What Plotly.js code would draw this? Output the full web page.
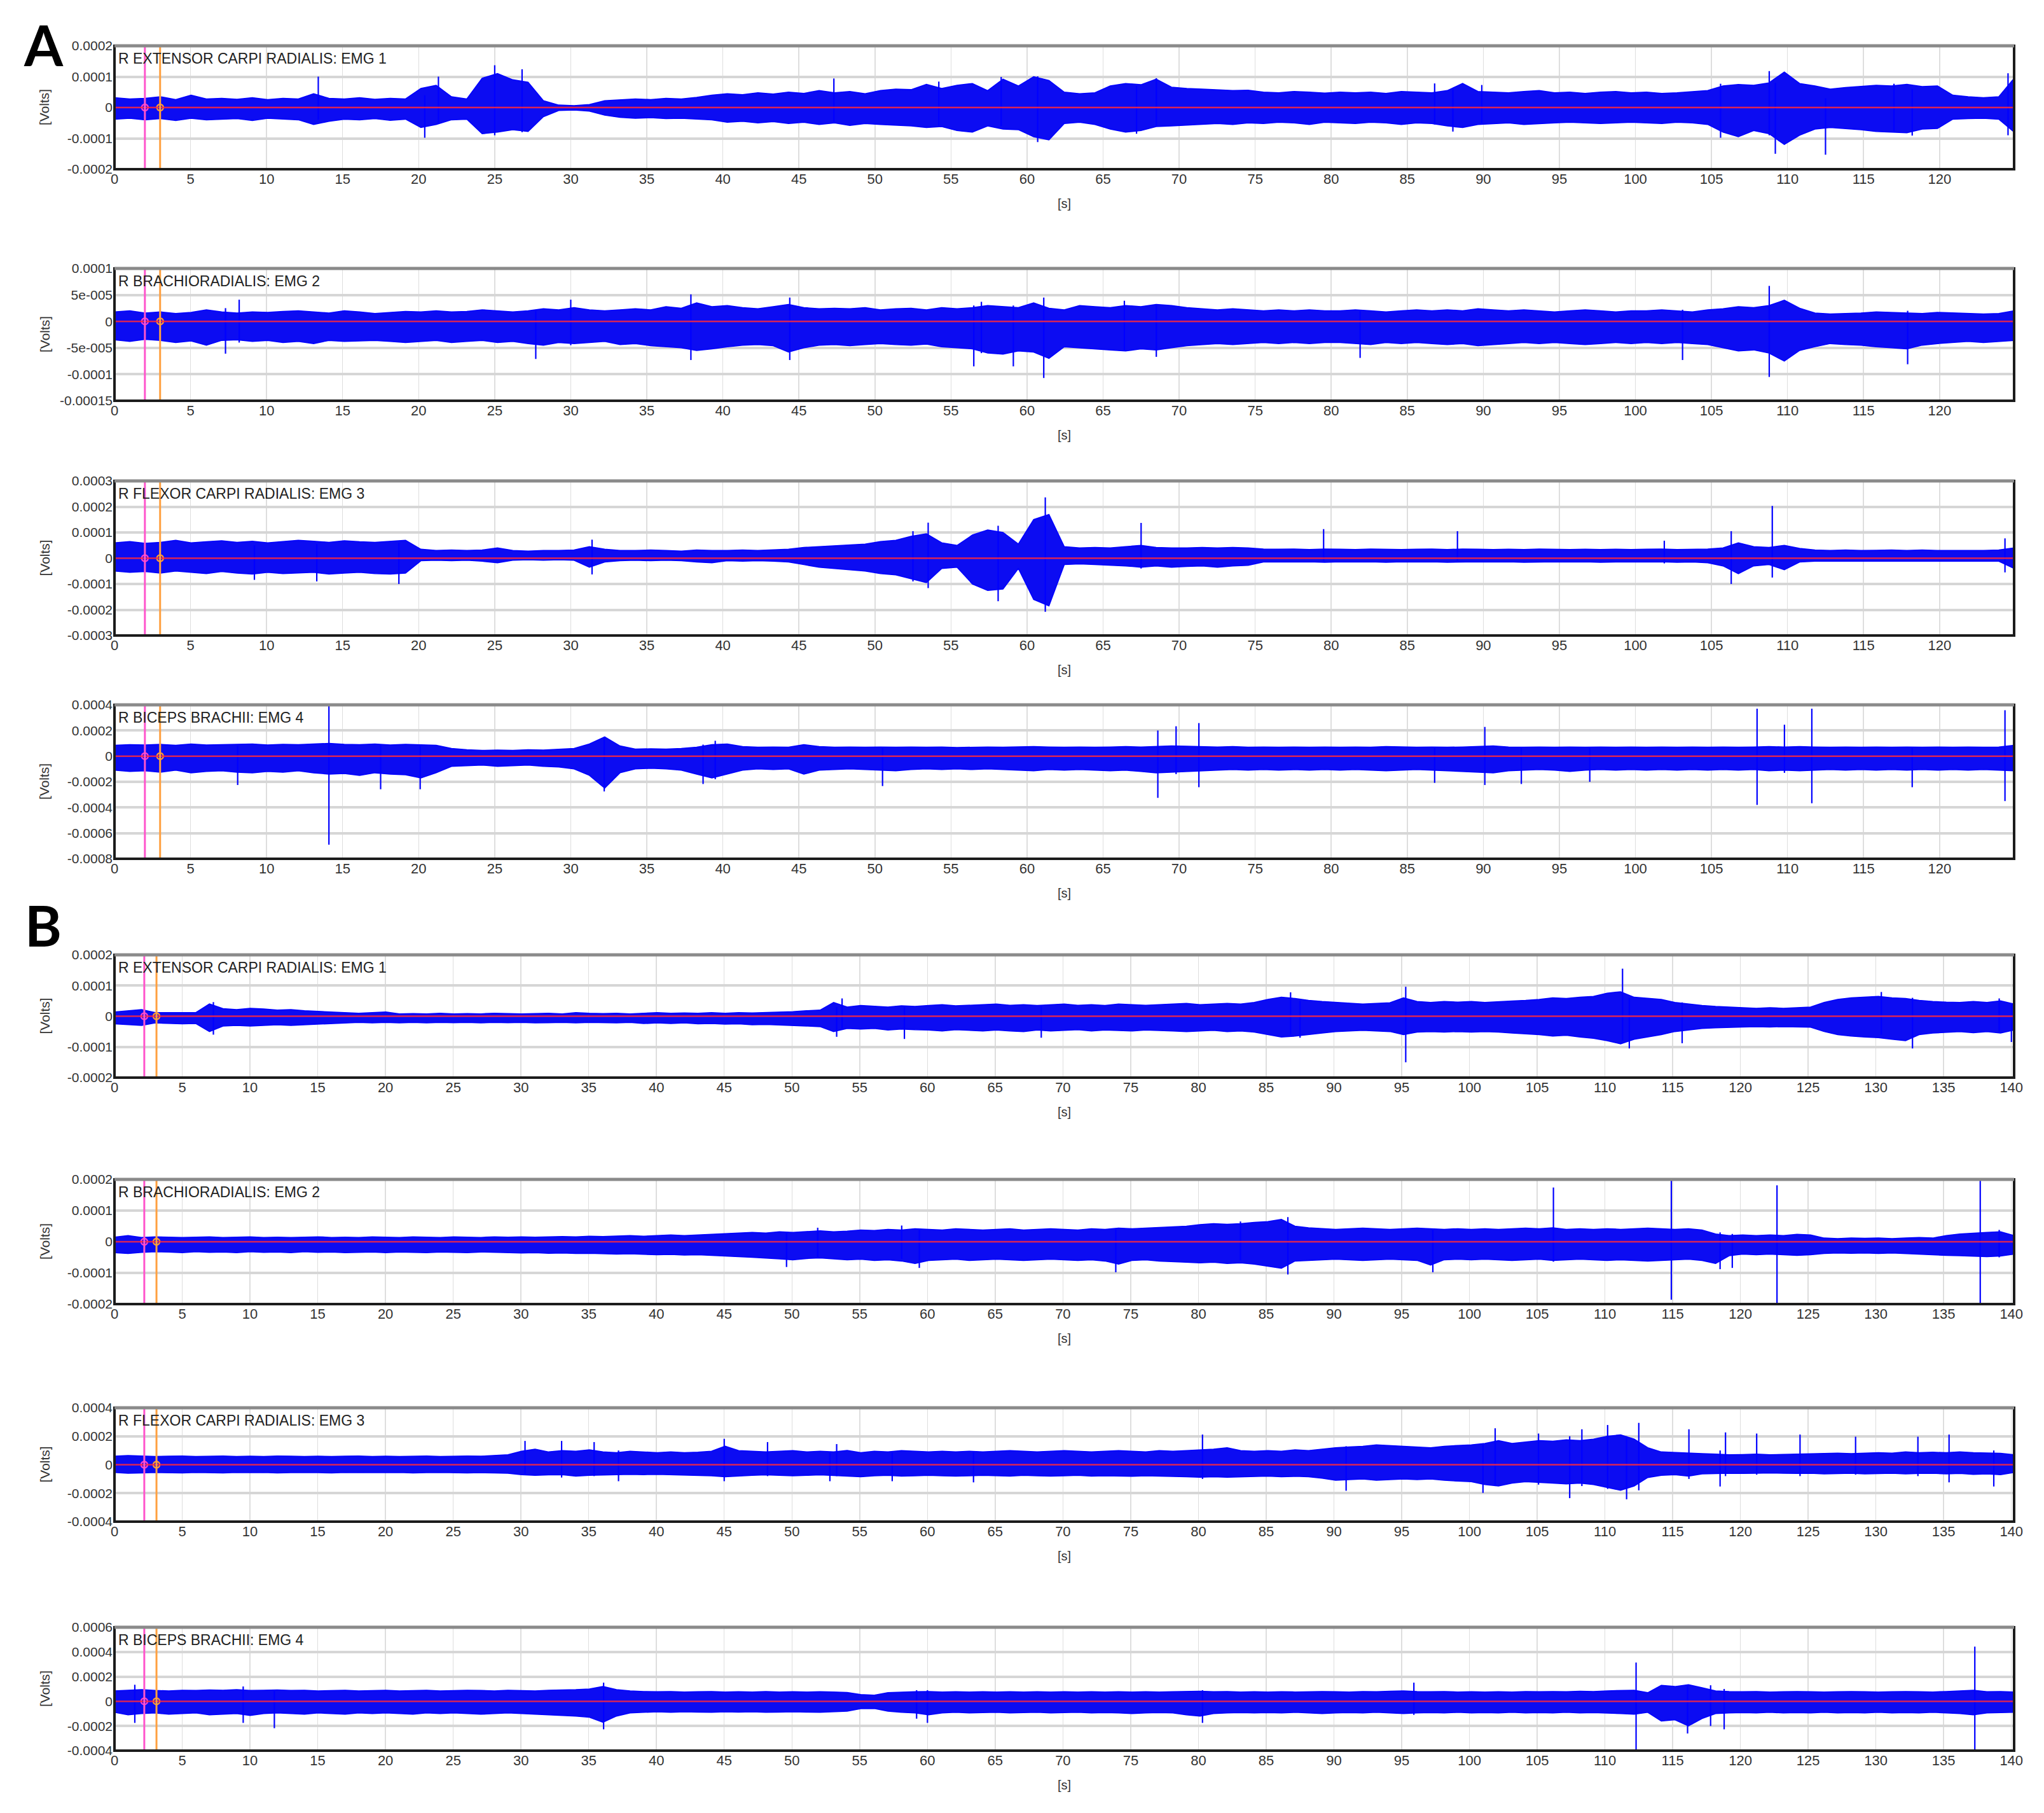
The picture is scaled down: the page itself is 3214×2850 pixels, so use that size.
<!DOCTYPE html>
<html><head><meta charset="utf-8">
<script src="https://cdn.plot.ly/plotly-3.0.1.min.js"></script>
<style>html,body{margin:0;padding:0;background:#fff}#chart{width:3214px;height:2850px}</style>
</head><body><div id="chart"></div>
<script>
// ===== DATA (signal envelopes in microvolts, one value per sample of the 1 s grid) =====
const A_duration_s = 124.9;
const B_duration_s = 140.2;
const A_xTicks = [0,5,10,15,20,25,30,35,40,45,50,55,60,65,70,75,80,85,90,95,100,105,110,115,120];
const B_xTicks = [0,5,10,15,20,25,30,35,40,45,50,55,60,65,70,75,80,85,90,95,100,105,110,115,120,125,130,135,140];
const A_cursorPink = 2.0, A_cursorOrange = 3.0;
const B_cursorPink = 2.2, B_cursorOrange = 3.1;

const titles = ['R EXTENSOR CARPI RADIALIS: EMG 1','R BRACHIORADIALIS: EMG 2','R FLEXOR CARPI RADIALIS: EMG 3','R BICEPS BRACHII: EMG 4'];

// --- A1
const A1_hi = [32,28,30,35,26,40,28,30,27,32,26,30,28,45,30,28,32,27,30,28,
62,72,35,28,95,110,90,82,22,8,6,10,22,25,28,26,30,28,33,40,
45,42,48,44,50,46,55,48,52,45,55,60,58,75,62,72,78,55,92,70,
100,88,50,45,48,70,78,74,92,66,62,60,58,55,56,50,48,52,50,47,
50,48,50,46,52,50,48,55,78,52,50,48,52,55,48,50,46,50,52,48,
50,46,48,52,55,70,75,72,80,115,78,70,60,65,68,72,70,75,68,70,
40,35,32,35,95];
const A1_lo = [-38,-35,-40,-36,-42,-35,-40,-38,-36,-42,-35,-38,-40,-55,-45,-38,-40,-36,-42,-38,
-65,-55,-40,-38,-85,-80,-72,-78,-30,-10,-8,-12,-25,-32,-35,-33,-36,-35,-38,-40,
-48,-45,-50,-46,-52,-48,-55,-50,-58,-52,-55,-58,-60,-65,-62,-75,-80,-60,-70,-72,
-95,-105,-52,-48,-55,-70,-80,-75,-62,-60,-58,-55,-52,-55,-50,-52,-48,-50,-55,-48,
-50,-52,-48,-50,-55,-50,-52,-60,-65,-55,-52,-50,-55,-52,-50,-48,-50,-52,-50,-48,
-50,-52,-48,-50,-55,-80,-95,-75,-85,-120,-90,-70,-65,-68,-72,-78,-80,-82,-70,-68,
-38,-36,-35,-38,-80];
const A1_spikeT  = [13.4,20.4,21.3,25,26.8,47.3,54.2,58.3,60.7,67.2,68.5,86.8,88,89.9,105.6,108.8,109.2,112.5,117,118.2,124.5];
const A1_spikeHi = [100,40,100,137,124,94,84,99,101,70,95,78,60,73,77,118,80,30,77,60,111];
const A1_spikeLo = [-40,-98,-50,-90,-80,-50,-60,-60,-112,-85,-60,-55,-78,-55,-98,-90,-150,-153,-80,-91,-90];

// --- A2
const A2_hi = [18,20,16,18,15,17,22,18,16,18,17,19,20,18,16,20,18,15,17,19,
18,20,18,19,22,20,18,20,24,22,26,22,20,22,24,22,28,25,35,28,
30,26,24,28,32,26,24,25,24,26,22,24,25,22,26,24,26,30,28,26,
35,25,22,30,28,26,30,28,32,30,26,24,22,24,22,20,22,20,22,20,
20,22,20,18,20,22,20,22,20,24,22,20,22,20,18,20,22,20,18,20,
20,22,20,18,22,24,28,26,30,40,25,16,14,15,16,18,17,16,15,17,
16,15,14,15,20];
const A2_lo = [-35,-38,-34,-36,-40,-37,-45,-36,-35,-38,-36,-40,-38,-42,-36,-38,-37,-36,-38,-40,
-38,-36,-40,-38,-36,-40,-38,-42,-45,-40,-42,-40,-38,-44,-42,-46,-48,-50,-55,-52,
-48,-45,-44,-46,-58,-50,-45,-44,-46,-44,-42,-44,-45,-43,-48,-50,-52,-60,-62,-56,
-58,-70,-48,-50,-52,-54,-56,-52,-54,-50,-46,-44,-42,-44,-42,-40,-42,-40,-42,-40,
-40,-42,-44,-40,-42,-40,-42,-44,-42,-46,-44,-42,-40,-42,-40,-42,-44,-42,-40,-42,
-40,-42,-40,-42,-44,-50,-56,-54,-60,-75,-55,-48,-42,-44,-45,-48,-50,-52,-45,-42,
-40,-38,-40,-38,-36];
const A2_spikeT  = [7.3,8.2,27.7,30,37.9,44.4,56.5,57,59.1,61.1,66.4,68.5,81.9,103.1,108.8,117.9];
const A2_spikeHi = [25,41,20,41,51,45,30,37,30,45,39,30,20,22,67,20];
const A2_spikeLo = [-61,-40,-71,-45,-73,-73,-85,-60,-85,-107,-55,-67,-69,-73,-105,-81];

// --- A3
const A3_hi = [60,65,58,62,70,60,64,68,62,66,60,65,70,66,62,68,64,62,66,70,
35,30,32,30,32,40,30,28,30,30,32,45,35,30,30,32,30,28,32,30,
30,32,30,32,35,42,45,48,52,55,65,70,85,95,60,50,90,110,100,55,
150,170,45,40,42,40,45,50,42,40,40,42,40,42,40,36,35,36,34,36,
35,34,36,35,34,35,36,34,36,35,34,35,34,36,35,34,35,34,35,34,
35,36,34,35,36,40,60,45,42,50,38,32,30,32,30,31,32,30,32,30,
30,31,30,32,40];
const A3_lo = [-50,-55,-52,-58,-50,-55,-60,-52,-58,-62,-55,-60,-58,-55,-62,-58,-55,-60,-62,-58,
-10,-8,-10,-8,-12,-18,-8,-6,-8,-6,-8,-35,-15,-10,-8,-10,-8,-10,-15,-18,
-10,-12,-10,-12,-15,-25,-35,-40,-45,-50,-60,-65,-80,-95,-40,-35,-100,-125,-120,-40,
-160,-185,-25,-22,-25,-28,-30,-35,-30,-35,-32,-30,-35,-30,-28,-15,-14,-15,-14,-16,
-14,-15,-14,-16,-14,-15,-14,-16,-15,-14,-15,-14,-16,-15,-14,-15,-14,-16,-15,-14,
-15,-14,-16,-15,-18,-30,-60,-30,-25,-45,-15,-12,-12,-12,-12,-12,-12,-12,-12,-12,
-12,-12,-12,-12,-40];
const A3_spikeT  = [9.2,13.3,18.7,31.4,52.5,53.5,58.1,61.2,67.5,79.5,88.3,101.9,106.3,109,124.3];
const A3_spikeHi = [50,55,60,72,105,138,126,236,137,113,105,68,105,203,77];
const A3_spikeLo = [-84,-90,-100,-63,-90,-116,-167,-208,-40,-15,-15,-20,-100,-75,-55];

// --- A4
const A4_hi = [85,90,88,92,85,95,88,90,92,95,88,92,90,95,100,92,90,95,88,92,
90,85,60,50,45,48,45,50,48,55,60,95,150,80,55,58,55,60,70,90,
95,75,70,72,70,90,75,70,72,70,72,70,72,70,72,68,70,72,70,72,
75,72,70,72,70,72,75,72,75,80,78,75,72,75,70,72,70,72,70,72,
70,72,70,75,72,70,72,70,72,75,80,72,70,72,70,72,70,72,70,72,
70,72,70,72,70,72,70,72,75,72,75,72,70,72,70,72,70,72,70,72,
70,72,70,72,85];
const A4_lo = [-110,-120,-115,-125,-110,-130,-120,-115,-125,-130,-120,-125,-115,-130,-140,-135,-150,-130,-140,-145,
-170,-130,-80,-75,-70,-80,-75,-70,-80,-85,-100,-150,-250,-130,-100,-95,-100,-110,-140,-170,
-140,-110,-100,-105,-100,-140,-110,-105,-100,-105,-110,-115,-105,-100,-105,-100,-105,-100,-105,-110,
-115,-105,-110,-105,-110,-115,-110,-120,-130,-125,-120,-115,-110,-105,-110,-105,-110,-105,-110,-105,
-110,-105,-110,-115,-110,-105,-110,-115,-120,-125,-130,-115,-110,-105,-110,-120,-110,-105,-110,-105,
-110,-105,-110,-105,-110,-105,-110,-105,-115,-110,-115,-110,-105,-110,-105,-110,-105,-110,-105,-110,
-105,-110,-105,-110,-115];
const A4_spikeT  = [8.1,14.1,17.5,20.1,32.2,38.7,39.5,50.5,68.6,69.8,71.3,86.8,90.1,92.5,97,108,109.8,111.6,118.2,124.3];
const A4_spikeHi = [80,420,90,80,150,90,120,70,200,233,258,70,228,70,70,370,245,370,70,358];
const A4_spikeLo = [-225,-690,-258,-258,-275,-217,-180,-233,-325,-140,-242,-208,-225,-217,-200,-380,-130,-367,-242,-350];

// --- B1
const B1_hi = [14,18,22,12,12,13,12,40,25,22,26,24,20,22,18,16,14,12,10,12,
14,8,9,8,10,8,9,8,10,9,8,9,10,8,12,10,9,10,8,10,
12,10,11,10,12,10,12,11,12,14,15,18,20,45,30,35,32,30,34,32,
35,38,34,36,38,40,36,38,35,38,40,36,38,35,40,38,36,38,40,42,
38,40,42,40,45,55,62,58,52,48,45,42,40,42,44,60,48,45,48,46,
48,45,48,50,52,55,60,58,62,65,75,80,62,58,55,45,40,35,32,30,
28,26,28,26,28,30,45,55,60,62,65,60,58,52,48,46,45,48,45,50,
40];
const B1_lo = [-25,-28,-30,-22,-24,-25,-24,-50,-32,-30,-32,-30,-28,-30,-28,-26,-24,-22,-20,-22,
-20,-22,-20,-22,-20,-21,-20,-22,-20,-21,-20,-22,-21,-20,-22,-20,-21,-22,-20,-24,
-22,-24,-22,-25,-24,-26,-25,-28,-27,-28,-30,-32,-34,-50,-40,-42,-40,-45,-42,-44,
-45,-48,-44,-46,-48,-45,-48,-50,-45,-48,-46,-44,-48,-45,-46,-48,-45,-46,-48,-50,
-48,-46,-50,-48,-52,-60,-68,-65,-60,-55,-50,-48,-46,-48,-50,-60,-52,-50,-52,-50,
-52,-50,-52,-55,-58,-60,-65,-62,-68,-72,-80,-90,-75,-68,-60,-50,-45,-40,-38,-36,
-35,-34,-35,-34,-35,-36,-50,-60,-65,-68,-70,-75,-80,-60,-55,-52,-50,-54,-50,-55,
-45];
const B1_spikeT  = [7.3,53.3,53.7,58.3,68.4,86.8,87.5,95.3,111.3,111.8,115.7,130.4,132.7,139.1,140];
const B1_spikeHi = [46,30,58,30,35,78,50,96,155,60,45,79,60,58,40];
const B1_spikeLo = [-60,-67,-40,-74,-70,-60,-70,-150,-80,-105,-88,-60,-105,-50,-84];

// --- B2
const B2_hi = [15,20,14,16,15,14,15,16,14,15,16,14,15,14,15,16,14,15,14,16,
15,14,16,15,14,16,15,14,16,15,16,15,16,17,16,18,17,18,20,18,
20,22,20,22,24,26,28,30,28,32,30,32,35,32,34,38,36,40,38,42,
40,38,42,40,38,40,42,38,40,42,40,38,42,40,44,42,44,46,48,50,
55,58,56,58,62,65,72,50,45,42,40,42,44,42,40,42,44,42,40,42,
40,42,40,42,44,42,45,40,42,40,42,40,42,44,42,40,42,38,25,20,
22,20,22,20,24,22,12,10,12,11,12,10,12,14,12,20,25,28,30,32,
20];
const B2_lo = [-35,-38,-34,-32,-33,-35,-32,-34,-33,-35,-32,-34,-33,-35,-32,-34,-33,-35,-34,-33,
-35,-33,-34,-35,-33,-34,-35,-33,-34,-35,-36,-35,-37,-36,-38,-37,-38,-40,-39,-40,
-42,-41,-43,-42,-45,-46,-48,-50,-52,-55,-58,-54,-52,-55,-58,-56,-60,-58,-62,-70,
-60,-58,-56,-60,-58,-56,-58,-60,-58,-56,-58,-60,-58,-62,-72,-60,-58,-62,-64,-66,
-68,-66,-70,-68,-72,-78,-85,-62,-60,-58,-56,-58,-60,-58,-56,-58,-60,-75,-58,-56,
-58,-56,-58,-60,-58,-56,-60,-58,-56,-58,-60,-58,-60,-62,-60,-58,-56,-60,-70,-45,
-40,-42,-40,-42,-44,-42,-38,-36,-37,-36,-38,-36,-38,-40,-42,-44,-45,-46,-48,-46,
-40];
const B2_spikeT  = [49.6,51.9,58.1,59.4,73.9,83.1,86.6,97.3,106.2,114.9,118.5,119.4,122.7,137.7,139.1];
const B2_spikeHi = [30,45,52,40,40,65,79,40,174,205,30,25,181,205,38];
const B2_spikeLo = [-81,-50,-55,-84,-98,-60,-105,-98,-64,-186,-88,-84,-205,-205,-50];

// --- B3
const B3_hi = [60,65,62,58,60,62,58,60,62,58,60,58,62,60,58,60,58,60,62,58,
60,58,60,62,58,60,62,60,65,70,95,110,90,100,95,105,90,85,95,90,
85,90,85,88,95,130,100,95,90,95,100,90,95,90,100,85,95,90,100,95,
90,95,90,95,90,95,100,95,90,95,100,95,90,95,100,95,90,100,95,100,
105,110,120,100,95,100,95,105,100,110,120,125,130,140,135,130,125,120,130,135,
140,150,170,150,160,170,165,175,170,180,200,210,180,120,90,85,80,78,75,70,
72,75,70,72,75,78,80,82,78,80,85,82,90,85,88,85,90,85,82,80,
70];
const B3_lo = [-55,-60,-58,-55,-56,-58,-55,-56,-58,-55,-56,-55,-58,-56,-55,-56,-58,-55,-56,-55,
-56,-55,-58,-56,-55,-56,-58,-56,-58,-60,-70,-75,-72,-70,-80,-75,-72,-70,-68,-70,
-68,-70,-72,-75,-78,-85,-80,-75,-72,-75,-78,-75,-72,-78,-80,-85,-78,-75,-80,-78,
-75,-78,-80,-78,-75,-78,-80,-75,-78,-80,-78,-75,-80,-78,-80,-82,-78,-80,-82,-85,
-88,-85,-88,-85,-82,-80,-85,-82,-85,-95,-110,-105,-100,-110,-105,-100,-105,-100,-110,-115,
-120,-140,-150,-130,-120,-125,-130,-135,-130,-140,-160,-180,-150,-90,-75,-70,-80,-65,-62,-60,
-62,-60,-58,-60,-62,-60,-65,-62,-60,-65,-62,-60,-65,-62,-60,-65,-62,-68,-65,-70,
-55];
const B3_spikeT  = [30.3,33,35.4,37.2,45,48.2,52.8,53.3,57.4,63.4,80.3,90.9,101,101.9,105.1,107.4,108.3,110.2,111.6,112.5,116.2,118.5,118.9,121.2,124.4,128.5,133.1,135.4,138.7];
const B3_spikeHi = [167,167,159,100,182,159,90,145,90,90,212,130,150,256,219,200,249,279,200,294,249,100,227,219,212,197,197,212,100];
const B3_spikeLo = [-70,-90,-80,-116,-116,-80,-116,-80,-116,-124,-100,-183,-198,-150,-140,-235,-150,-170,-243,-180,-100,-153,-80,-70,-80,-70,-80,-124,-153];

// --- B4
const B4_hi = [85,90,95,88,85,90,88,92,90,95,88,90,92,88,90,85,88,90,85,88,
90,85,88,90,85,88,90,88,85,90,88,85,90,92,95,100,120,95,85,80,
78,80,75,78,80,76,78,75,80,76,78,75,78,76,72,55,50,70,75,78,
80,76,78,75,78,76,78,75,78,76,78,75,78,76,78,75,78,76,78,80,
82,78,80,76,78,75,78,76,78,80,78,76,80,78,82,85,80,78,80,76,
78,75,78,76,80,78,80,78,82,80,85,88,90,70,130,120,135,110,85,80,
78,80,76,78,80,78,76,78,80,78,76,78,80,78,76,80,85,90,78,80,
75];
const B4_lo = [-90,-110,-100,-95,-105,-100,-95,-110,-105,-100,-115,-100,-95,-100,-105,-95,-100,-105,-95,-100,
-95,-100,-105,-95,-100,-95,-100,-105,-100,-95,-100,-105,-110,-115,-120,-130,-170,-120,-95,-90,
-85,-90,-85,-88,-90,-85,-88,-85,-90,-88,-85,-88,-90,-85,-80,-60,-58,-80,-90,-95,
-110,-95,-90,-95,-92,-90,-95,-92,-90,-95,-92,-90,-95,-92,-95,-100,-95,-92,-95,-110,
-120,-100,-95,-92,-95,-92,-95,-90,-95,-100,-95,-92,-95,-90,-95,-100,-95,-92,-95,-90,
-95,-92,-95,-90,-95,-92,-95,-90,-95,-92,-95,-100,-105,-90,-160,-150,-200,-140,-100,-95,
-92,-95,-90,-95,-92,-95,-90,-95,-92,-95,-90,-95,-92,-95,-90,-95,-100,-110,-95,-92,
-90];
const B4_spikeT  = [1.5,9.5,11.8,36.1,59.2,60,80.3,95.9,112.3,116.1,117.8,118.8,137.3];
const B4_spikeHi = [134,120,90,151,90,90,90,151,314,134,130,100,443];
const B4_spikeLo = [-175,-175,-218,-227,-141,-175,-175,-110,-400,-261,-200,-227,-400];

// y-axis ticks (volts) and their labels
const yTicks_A1 = [-0.0002,-0.0001,0,0.0001,0.0002];
const yText_A1 = ['-0.0002','-0.0001','0','0.0001','0.0002'];
const yTicks_A2 = [-0.00015,-0.0001,-0.00005,0,0.00005,0.0001];
const yText_A2 = ['-0.00015','-0.0001','-5e-005','0','5e-005','0.0001'];
const yTicks_A3 = [-0.0003,-0.0002,-0.0001,0,0.0001,0.0002,0.0003];
const yText_A3 = ['-0.0003','-0.0002','-0.0001','0','0.0001','0.0002','0.0003'];
const yTicks_A4 = [-0.0008,-0.0006,-0.0004,-0.0002,0,0.0002,0.0004];
const yText_A4 = ['-0.0008','-0.0006','-0.0004','-0.0002','0','0.0002','0.0004'];
const yTicks_B1 = [-0.0002,-0.0001,0,0.0001,0.0002];
const yText_B1 = ['-0.0002','-0.0001','0','0.0001','0.0002'];
const yTicks_B2 = [-0.0002,-0.0001,0,0.0001,0.0002];
const yText_B2 = ['-0.0002','-0.0001','0','0.0001','0.0002'];
const yTicks_B3 = [-0.0004,-0.0002,0,0.0002,0.0004];
const yText_B3 = ['-0.0004','-0.0002','0','0.0002','0.0004'];
const yTicks_B4 = [-0.0004,-0.0002,0,0.0002,0.0004,0.0006];
const yText_B4 = ['-0.0004','-0.0002','0','0.0002','0.0004','0.0006'];

// ===== LAYOUT CONFIG =====
const W = 3214, H = 2850, PL = 180, PR = 3167;
const FONT = 'Liberation Sans, Arial, sans-serif';
const panels = [
  {g:'A', title:titles[0], hi:A1_hi, lo:A1_lo, sT:A1_spikeT, sH:A1_spikeHi, sL:A1_spikeLo, yt:yTicks_A1, ytx:yText_A1, top:72,  bot:266},
  {g:'A', title:titles[1], hi:A2_hi, lo:A2_lo, sT:A2_spikeT, sH:A2_spikeHi, sL:A2_spikeLo, yt:yTicks_A2, ytx:yText_A2, top:422, bot:630},
  {g:'A', title:titles[2], hi:A3_hi, lo:A3_lo, sT:A3_spikeT, sH:A3_spikeHi, sL:A3_spikeLo, yt:yTicks_A3, ytx:yText_A3, top:756, bot:999},
  {g:'A', title:titles[3], hi:A4_hi, lo:A4_lo, sT:A4_spikeT, sH:A4_spikeHi, sL:A4_spikeLo, yt:yTicks_A4, ytx:yText_A4, top:1108, bot:1350},
  {g:'B', title:titles[0], hi:B1_hi, lo:B1_lo, sT:B1_spikeT, sH:B1_spikeHi, sL:B1_spikeLo, yt:yTicks_B1, ytx:yText_B1, top:1501, bot:1694},
  {g:'B', title:titles[1], hi:B2_hi, lo:B2_lo, sT:B2_spikeT, sH:B2_spikeHi, sL:B2_spikeLo, yt:yTicks_B2, ytx:yText_B2, top:1854, bot:2050},
  {g:'B', title:titles[2], hi:B3_hi, lo:B3_lo, sT:B3_spikeT, sH:B3_spikeHi, sL:B3_spikeLo, yt:yTicks_B3, ytx:yText_B3, top:2213, bot:2392},
  {g:'B', title:titles[3], hi:B4_hi, lo:B4_lo, sT:B4_spikeT, sH:B4_spikeHi, sL:B4_spikeLo, yt:yTicks_B4, ytx:yText_B4, top:2558, bot:2752}
];

const uV = v => v * 1e-6;
const traces = [], shapes = [], annotations = [];
const layout = {
  width: W, height: H, margin:{l:0,r:0,t:0,b:0,autoexpand:false},
  paper_bgcolor:'#ffffff', plot_bgcolor:'#ffffff', showlegend:false,
  font:{family:FONT, color:'#222'}
};

panels.forEach((p, i) => {
  const k = i + 1;
  const xa = k === 1 ? 'x' : 'x' + k, ya = k === 1 ? 'y' : 'y' + k;
  const dur = p.g === 'A' ? A_duration_s : B_duration_s;
  const n = p.hi.length;
  const t = p.hi.map((_, j) => j * dur / (n - 1));
  const pink = p.g === 'A' ? A_cursorPink : B_cursorPink;
  const orange = p.g === 'A' ? A_cursorOrange : B_cursorOrange;

  // envelope band
  traces.push({type:'scatter', mode:'lines', xaxis:xa, yaxis:ya, hoverinfo:'skip',
    x: t.concat(t.slice().reverse()),
    y: p.hi.map(uV).concat(p.lo.map(uV).reverse()),
    fill:'toself', fillcolor:'#0c0cf2', line:{color:'#0000ff', width:1.5}});
  // isolated spikes
  const sx = [], sy = [];
  p.sT.forEach((tt, j) => { sx.push(tt, tt, null); sy.push(uV(p.sL[j]), uV(p.sH[j]), null); });
  traces.push({type:'scatter', mode:'lines', xaxis:xa, yaxis:ya, hoverinfo:'skip',
    x:sx, y:sy, line:{color:'#0000ff', width:2.2}, connectgaps:false});
  // cursor markers
  traces.push({type:'scatter', mode:'markers', xaxis:xa, yaxis:ya, hoverinfo:'skip',
    x:[pink, orange], y:[0,0],
    marker:{symbol:'circle-open', size:10, color:['#ff3fc8','#ff9a2e'], line:{width:2.5}}});

  const dom = [1 - p.bot / H, 1 - p.top / H];
  layout['xaxis' + (k === 1 ? '' : k)] = {
    domain:[PL / W, PR / W], anchor:ya, range:[0, dur],
    tickmode:'array', tickvals: p.g === 'A' ? A_xTicks : B_xTicks,
    ticktext: (p.g === 'A' ? A_xTicks : B_xTicks).map(String),
    showgrid:true, gridcolor:'#dedede', gridwidth:1.5, zeroline:false, showline:false,
    ticks:'', tickfont:{family:FONT, size:22, color:'#333'}, fixedrange:true
  };
  layout['yaxis' + (k === 1 ? '' : k)] = {
    domain:dom, anchor:xa, range:[p.yt[0], p.yt[p.yt.length - 1]],
    tickmode:'array', tickvals:p.yt, ticktext:p.ytx,
    showgrid:true, gridcolor:'#d6d6d6', gridwidth:4, zeroline:false, showline:false,
    ticks:'', ticklabelstandoff:2, tickfont:{family:FONT, size:21, color:'#333'}, fixedrange:true
  };

  // zero line (red), cursors, frame
  shapes.push({type:'line', layer:'above', xref:xa + ' domain', yref:ya, x0:0, x1:1, y0:0, y1:0,
    line:{color:'rgba(255,40,60,0.85)', width:2.5}});
  shapes.push({type:'line', layer:'above', xref:xa, yref:ya + ' domain', x0:pink, x1:pink, y0:0, y1:1,
    line:{color:'#ff55cc', width:3}});
  shapes.push({type:'line', layer:'above', xref:xa, yref:ya + ' domain', x0:orange, x1:orange, y0:0, y1:1,
    line:{color:'#ffa040', width:3}});
  shapes.push({type:'rect', layer:'above', xref:xa + ' domain', yref:ya + ' domain', x0:0, x1:1, y0:0, y1:1,
    line:{color:'#1c1c1c', width:4}, fillcolor:'rgba(0,0,0,0)'});
  shapes.push({type:'line', layer:'above', xref:xa + ' domain', yref:ya + ' domain', x0:0, x1:1, y0:1, y1:1,
    line:{color:'#8a8a8a', width:5}});

  // texts
  annotations.push({xref:'paper', yref:'paper', x:(PL + 4) / W, y:1 - (p.top + 20) / H,
    xanchor:'left', yanchor:'middle', showarrow:false, text:p.title,
    font:{family:FONT, size:23, color:'#222'}});
  annotations.push({xref:'paper', yref:'paper', x:70 / W, y:1 - ((p.top + p.bot) / 2) / H,
    xanchor:'center', yanchor:'middle', showarrow:false, text:'[Volts]', textangle:-90,
    font:{family:FONT, size:21, color:'#333'}});
  annotations.push({xref:'paper', yref:'paper', x:(PL + PR) / 2 / W, y:1 - (p.bot + 54) / H,
    xanchor:'center', yanchor:'middle', showarrow:false, text:'[s]',
    font:{family:FONT, size:20, color:'#333'}});
});

annotations.push({xref:'paper', yref:'paper', x:68 / W, y:1 - 70 / H, xanchor:'center', yanchor:'middle',
  showarrow:false, text:'<b>A</b>', font:{family:'Lato, Open Sans, sans-serif', size:88, color:'#000'}});
annotations.push({xref:'paper', yref:'paper', x:68 / W, y:1 - 1454 / H, xanchor:'center', yanchor:'middle',
  showarrow:false, text:'<b>B</b>', font:{family:'Lato, Open Sans, sans-serif', size:88, color:'#000'}});

layout.shapes = shapes;
layout.annotations = annotations;
Plotly.newPlot('chart', traces, layout, {staticPlot:true, displayModeBar:false});
</script>
</body></html>
